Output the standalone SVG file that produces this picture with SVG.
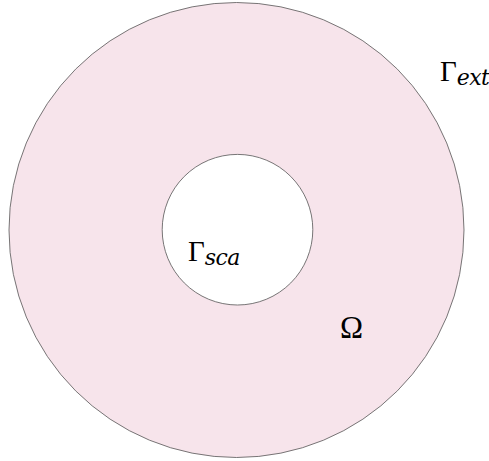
<svg xmlns="http://www.w3.org/2000/svg" width="489" height="461" viewBox="0 0 489 461">
<style>
.ring{fill:#f7e4eb;stroke:#555;stroke-width:0.8}
.hole{fill:#fff;stroke:#555;stroke-width:0.8}
.lbl{font-family:"Liberation Serif","Times New Roman",serif;font-size:29px;fill:#000}
.sub{font-family:"DejaVu Serif",serif;font-style:italic;font-size:22px;letter-spacing:-0.6px}
.big{font-size:31px}
</style>
<rect width="489" height="461" fill="#fff"/>
<g id="domain">
<circle class="ring" cx="236.5" cy="230" r="227.5"/>
<circle class="hole" cx="237.5" cy="229.7" r="75.3"/>
</g>
<g id="labels">
<text class="lbl" x="440" y="81">Γ<tspan class="sub" dy="4">ext</tspan></text>
<text class="lbl" x="188" y="261">Γ<tspan class="sub" dy="4">sca</tspan></text>
<text class="lbl big" x="340" y="338">Ω</text>
</g>
</svg>
